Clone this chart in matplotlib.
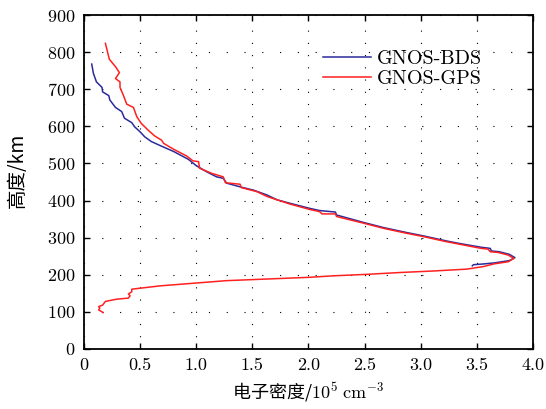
import matplotlib
matplotlib.use("Agg")
import matplotlib.pyplot as plt

plt.rcParams['font.family'] = ['cmr10', 'Noto Sans CJK SC', 'DejaVu Sans']
plt.rcParams['mathtext.fontset'] = 'cm'
plt.rcParams['axes.unicode_minus'] = False
plt.rcParams['axes.formatter.use_mathtext'] = True

# GNOS-GPS profile (electron density 1e5 cm^-3, altitude km)
gps_x = [0.19, 0.225, 0.28, 0.315, 0.28, 0.32, 0.32, 0.35, 0.38, 0.44, 0.47, 0.51, 0.57, 0.63,
         0.69, 0.71, 0.80, 0.915, 0.97, 1.02, 1.03, 1.14, 1.24, 1.26, 1.39, 1.40, 1.54, 1.63,
         1.72, 1.83, 2.01, 2.10, 2.12, 2.24, 2.25, 2.37, 2.49, 2.67, 2.87, 3.02, 3.14, 3.23,
         3.35, 3.54, 3.60, 3.62, 3.69, 3.78, 3.83, 3.78, 3.65, 3.56, 3.41, 3.11, 2.82, 2.52,
         2.22, 2.01, 1.27, 0.68, 0.51, 0.425, 0.425, 0.395, 0.41, 0.395, 0.29, 0.19, 0.165,
         0.13, 0.14, 0.13, 0.17]
gps_y = [824, 781, 761, 745, 729, 720, 705, 684, 660, 651, 626, 608, 590, 574,
         563, 554, 538, 520, 507, 505, 487, 473, 464, 448, 444, 435, 424, 411,
         402, 391, 376, 370, 364, 364, 357, 348, 339, 325, 312, 303, 295, 289,
         282, 271, 269, 262, 260, 253, 244, 235, 229, 222, 215, 210, 206, 201,
         197, 193, 184, 170, 164, 161, 154, 148, 143, 137, 134, 128, 118,
         114, 110, 105, 98]

# GNOS-BDS profile
bds_x = [0.068, 0.083, 0.11, 0.16, 0.165, 0.22, 0.23, 0.28, 0.335, 0.36, 0.425, 0.45, 0.50,
         0.54, 0.60, 0.68, 0.80, 0.93, 1.00, 1.09, 1.18, 1.24, 1.27, 1.39, 1.51, 1.63, 1.72,
         1.83, 2.01, 2.10, 2.24, 2.25, 2.37, 2.49, 2.67, 2.87, 3.02, 3.14, 3.23, 3.35, 3.54,
         3.62, 3.63, 3.70, 3.79, 3.84, 3.79, 3.66, 3.56, 3.47, 3.46]
bds_y = [768, 743, 720, 705, 693, 683, 671, 651, 640, 622, 610, 599, 585,
         572, 559, 548, 532, 511, 494, 478, 464, 460, 447, 437, 428, 415, 402,
         393, 379, 373, 369, 361, 351, 341, 327, 314, 305, 297, 291, 284, 274,
         271, 264, 262, 255, 246, 238, 232, 229, 227, 224]

fig = plt.figure(figsize=(5.46, 4.09), dpi=100)
ax = fig.add_axes([0.154, 0.147, 0.822, 0.816])

ax.plot(bds_x, bds_y, color='#2b2b9b', lw=1.1, label='GNOS-BDS')
ax.plot(gps_x, gps_y, color='#ff2020', lw=1.1, label='GNOS-GPS')

ax.set_xlim(0, 4)
ax.set_ylim(0, 900)
ax.set_xticks([0, 0.5, 1.0, 1.5, 2.0, 2.5, 3.0, 3.5, 4.0])
ax.set_xticklabels(['0', '0.5', '1.0', '1.5', '2.0', '2.5', '3.0', '3.5', '4.0'])
ax.set_yticks(range(0, 901, 100))
ax.tick_params(direction='in', top=True, right=True, length=4, width=1,
               labelsize=13, pad=6)
ax.xaxis.grid(True, color='black', linestyle=(0, (1, 10)), linewidth=0.8)
ax.yaxis.grid(True, color='black', linestyle=(0, (1, 15)), linewidth=0.8)
for s in ax.spines.values():
    s.set_linewidth(1.3)

ax.set_xlabel('电子密度/$10^5\\ \\mathrm{cm}^{-3}$', fontsize=13,
              family=['Noto Sans CJK SC', 'DejaVu Sans'], labelpad=6)
ax.set_ylabel('高度/km', fontsize=14, family=['Noto Sans CJK SC', 'DejaVu Sans'])
ax.yaxis.set_label_coords(-0.125, 0.536)

leg = ax.legend(loc='upper right', bbox_to_anchor=(0.905, 0.92), frameon=False,
                borderaxespad=0, fontsize=14.5, handlelength=2.4,
                handletextpad=0.3, labelspacing=0.1)

fig.savefig('out.png', dpi=100)
